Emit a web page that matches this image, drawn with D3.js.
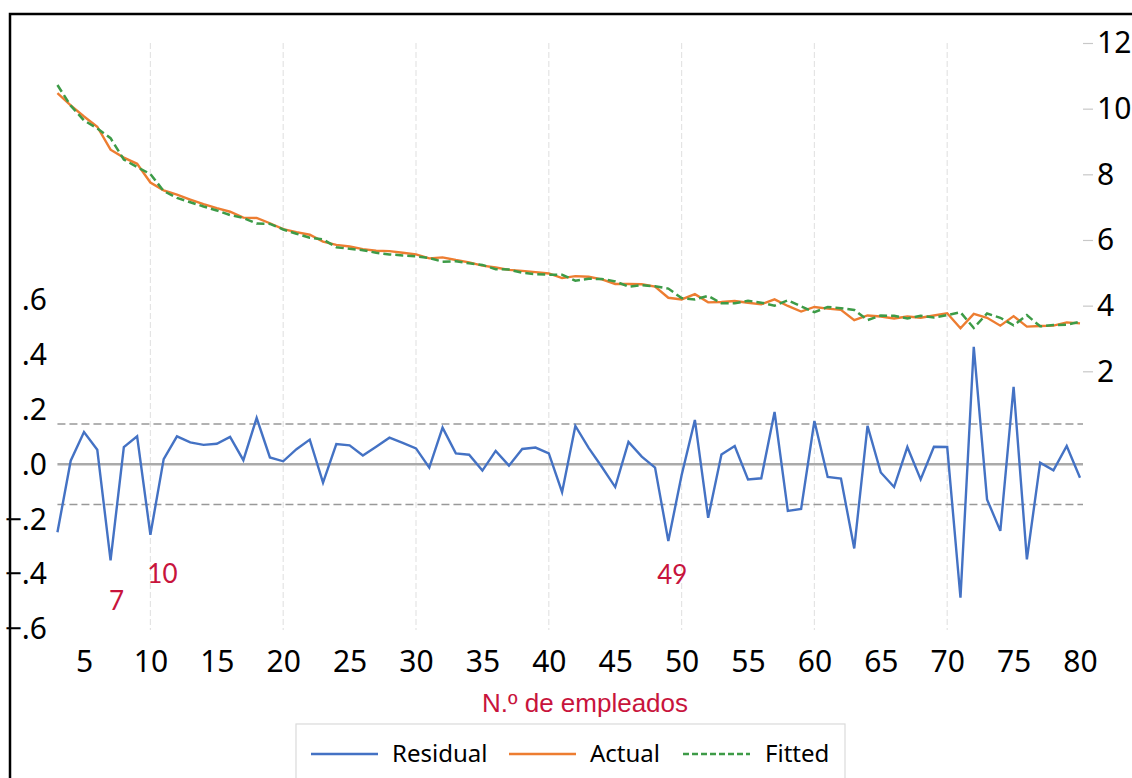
<!DOCTYPE html>
<html lang="es">
<head>
<meta charset="UTF-8">
<title>Residual / Actual / Fitted</title>
<style>
  body { margin: 0; background: #fff; }
  svg { display: block; }
  .tick text { font-family: "Noto Sans", sans-serif; fill: #000; }
</style>
</head>
<body>
<svg width="1132" height="778"></svg>
<script src="https://cdnjs.cloudflare.com/ajax/libs/d3/7.8.5/d3.min.js"></script>
<script>
// N.º de empleados 3..80
var empleados = [3,4,5,6,7,8,9,10,11,12,13,14,15,16,17,18,19,20,21,22,23,24,25,26,27,28,29,30,
  31,32,33,34,35,36,37,38,39,40,41,42,43,44,45,46,47,48,49,50,51,52,53,54,55,56,57,58,59,60,
  61,62,63,64,65,66,67,68,69,70,71,72,73,74,75,76,77,78,79,80];

var actual = [10.47,10.10,9.76,9.45,8.75,8.51,8.32,7.75,7.51,7.38,7.23,7.09,6.97,6.86,6.68,6.67,6.51,6.33,6.24,6.16,
  5.95,5.85,5.80,5.72,5.67,5.66,5.61,5.56,5.44,5.47,5.39,5.32,5.22,5.16,5.09,5.06,5.02,4.98,4.84,4.90,
  4.88,4.80,4.66,4.66,4.65,4.58,4.24,4.19,4.35,4.10,4.11,4.14,4.09,4.04,4.19,3.99,3.82,3.96,3.91,3.87,
  3.56,3.70,3.67,3.61,3.67,3.63,3.70,3.77,3.31,3.75,3.63,3.39,3.68,3.36,3.38,3.39,3.49,3.46];

var fitted = [10.72,10.09,9.64,9.40,9.10,8.45,8.22,8.01,7.49,7.28,7.15,7.02,6.90,6.76,6.67,6.50,6.49,6.32,6.19,6.07,
  6.02,5.78,5.73,5.69,5.61,5.56,5.53,5.50,5.45,5.34,5.35,5.29,5.24,5.11,5.10,5.00,4.96,4.94,4.94,4.76,
  4.82,4.81,4.74,4.58,4.62,4.59,4.52,4.23,4.19,4.30,4.07,4.07,4.15,4.09,4.00,4.16,3.98,3.80,3.96,3.92,
  3.87,3.56,3.70,3.69,3.61,3.69,3.64,3.71,3.80,3.32,3.76,3.63,3.40,3.71,3.37,3.41,3.42,3.51];

var residual = [-0.248,0.013,0.118,0.053,-0.351,0.063,0.102,-0.257,0.019,0.102,0.080,0.071,0.075,0.100,0.015,0.169,0.025,0.011,0.055,0.090,
  -0.067,0.074,0.069,0.032,0.064,0.097,0.078,0.058,-0.012,0.134,0.040,0.035,-0.023,0.049,-0.005,0.056,0.061,0.040,-0.102,0.140,
  0.060,-0.010,-0.083,0.082,0.028,-0.012,-0.280,-0.040,0.162,-0.195,0.036,0.067,-0.055,-0.051,0.191,-0.170,-0.163,0.158,-0.046,-0.052,
  -0.307,0.140,-0.030,-0.083,0.063,-0.055,0.064,0.063,-0.487,0.429,-0.128,-0.243,0.283,-0.347,0.006,-0.022,0.067,-0.049];

var seRegresion = 0.147;
var xTicks = [5,10,15,20,25,30,35,40,45,50,55,60,65,70,75,80];
var xGrid = [10,20,30,40,50,60,70];
var leftTicks = [-0.6,-0.4,-0.2,0,0.2,0.4,0.6];
var rightTicks = [2,4,6,8,10,12];
var destacados = [{n: 7, label: "7"}, {n: 10, label: "10"}, {n: 49, label: "49"}];
var series = ["Residual", "Actual", "Fitted"];

var cBlue = "#4472c4", cOrange = "#ed7d31", cGreen = "#3d9b47", cRed = "#c8143c";

var svg = d3.select("svg");

var x = d3.scaleLinear().domain([5, 80]).range([84, 1080]);
var yR = d3.scaleLinear().domain([2, 12]).range([371.3, 43]);
var yL = d3.scaleLinear().domain([-0.6, 0.6]).range([628.7, 299.9]);

var rows = empleados.map(function (n, i) {
  return {n: n, actual: actual[i], fitted: fitted[i], resid: residual[i]};
});

// frame
svg.append("path")
  .attr("d", "M10,778 L10,14 L1132,14")
  .attr("fill", "none").attr("stroke", "#000").attr("stroke-width", 2.5);

// vertical grid
svg.selectAll("line.grid").data(xGrid).enter().append("line")
  .attr("class", "grid")
  .attr("x1", d => x(d)).attr("x2", d => x(d))
  .attr("y1", 43).attr("y2", 630)
  .attr("stroke", "#e4e4e4").attr("stroke-width", 1.2)
  .attr("stroke-dasharray", "6,3");

// residual reference lines
var x0 = x(3), x1 = 1083;
svg.append("line")
  .attr("x1", x0).attr("x2", x1).attr("y1", yL(0)).attr("y2", yL(0))
  .attr("stroke", "#aaaaaa").attr("stroke-width", 2.5);
[seRegresion, -seRegresion].forEach(function (v) {
  svg.append("line")
    .attr("x1", x0).attr("x2", x1).attr("y1", yL(v)).attr("y2", yL(v))
    .attr("stroke", "#999999").attr("stroke-width", 1.5)
    .attr("stroke-dasharray", "8,4");
});

// series
var lineResid = d3.line().x(d => x(d.n)).y(d => yL(d.resid));
var lineActual = d3.line().x(d => x(d.n)).y(d => yR(d.actual));
var lineFitted = d3.line().x(d => x(d.n)).y(d => yR(d.fitted));

svg.append("path").datum(rows).attr("d", lineResid)
  .attr("fill", "none").attr("stroke", cBlue).attr("stroke-width", 2.4);
svg.append("path").datum(rows).attr("d", lineActual)
  .attr("fill", "none").attr("stroke", cOrange).attr("stroke-width", 2.4);
svg.append("path").datum(rows).attr("d", lineFitted)
  .attr("fill", "none").attr("stroke", cGreen).attr("stroke-width", 2.5)
  .attr("stroke-dasharray", "8,4");

// axes
var gx = svg.append("g").attr("transform", "translate(0,672)")
  .call(d3.axisBottom(x).tickValues(xTicks).tickSize(0).tickPadding(0));
gx.select(".domain").remove();
gx.selectAll("text").attr("font-size", 30).attr("dy", 0);

var gl = svg.append("g").attr("transform", "translate(47,0)")
  .call(d3.axisLeft(yL).tickValues(leftTicks).tickSize(0).tickPadding(0)
    .tickFormat(d => d3.format(".1f")(d).replace("0.", ".")));
gl.select(".domain").remove();
gl.selectAll("text").attr("font-size", 30).attr("dy", "0.33em");

var gr = svg.append("g").attr("transform", "translate(1083,0)")
  .call(d3.axisRight(yR).tickValues(rightTicks).tickSize(10).tickPadding(4));
gr.select(".domain").remove();
gr.selectAll("line").attr("stroke", "#c8c8c8").attr("stroke-width", 1.2);
gr.selectAll("text").attr("font-size", 30).attr("dy", "0.33em");

// highlighted observations
var offs = {7: [6, 28], 10: [12, 26], 49: [4, 21]};
svg.selectAll("text.obs").data(destacados).enter().append("text")
  .attr("class", "obs")
  .attr("x", d => x(d.n) + offs[d.n][0])
  .attr("y", d => yL(residual[empleados.indexOf(d.n)]) + 22 + offs[d.n][1])
  .attr("text-anchor", "middle")
  .attr("font-family", "Lato, 'Noto Sans', sans-serif")
  .attr("font-size", 26)
  .attr("fill", cRed)
  .text(d => d.label);

// x title
svg.append("text")
  .attr("x", 585).attr("y", 712)
  .attr("text-anchor", "middle")
  .attr("font-family", "'Liberation Sans', Arial, sans-serif")
  .attr("font-size", 26)
  .attr("fill", cRed)
  .text("N.º de empleados");

// legend
svg.append("rect")
  .attr("x", 296).attr("y", 724).attr("width", 549).attr("height", 70)
  .attr("fill", "#fff").attr("stroke", "#dadada").attr("stroke-width", 1.2);

var legX = [311, 509, 683];
var legColor = [cBlue, cOrange, cGreen];
var legDash = [null, null, "6,3"];
var leg = svg.selectAll("g.leg").data(series).enter().append("g")
  .attr("class", "leg")
  .attr("transform", (d, i) => "translate(" + legX[i] + ",754)");
leg.append("line")
  .attr("x1", 0).attr("x2", 67)
  .attr("stroke", (d, i) => legColor[i]).attr("stroke-width", 2.5)
  .attr("stroke-dasharray", (d, i) => legDash[i]);
leg.append("text")
  .attr("x", (d, i) => [81, 81, 82][i]).attr("y", 8)
  .attr("font-family", "'Noto Sans', sans-serif")
  .attr("font-size", 24)
  .attr("fill", "#000")
  .text(d => d);
</script>
</body>
</html>
